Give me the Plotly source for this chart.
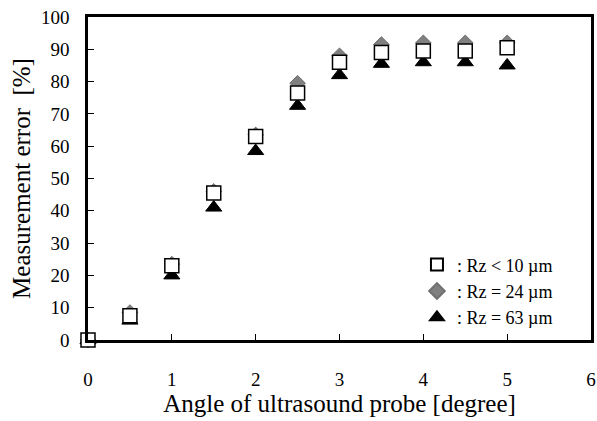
import plotly.graph_objects as go

angles = [0, 0.5, 1, 1.5, 2, 2.5, 3, 3.5, 4, 4.5, 5]
rz10 = [0, 7.5, 23, 45.5, 63, 76.5, 86, 89, 89.5, 89.5, 90.5]
rz24 = [0, 8.5, 23.5, 46, 63.5, 79.5, 88, 91.5, 92, 92, 92]
rz63 = [0, 6, 20, 41, 58.5, 72.5, 82, 85.5, 86, 86, 85]
names = [": Rz < 10 µm", ": Rz = 24 µm", ": Rz = 63 µm"]

FONT = "Liberation Serif, Times New Roman, serif"

fig = go.Figure()
fig.add_trace(go.Scatter(x=angles, y=rz24, mode="markers", name=names[1], legendrank=2,
                         marker=dict(symbol="diamond", size=12, color="#808080",
                                     line=dict(color="#707070", width=1)), cliponaxis=False))
fig.add_trace(go.Scatter(x=angles, y=rz63, mode="markers", name=names[2], legendrank=3,
                         marker=dict(symbol="triangle-up", size=14, color="black",
                                     line=dict(color="black", width=1)), cliponaxis=False))
fig.add_trace(go.Scatter(x=angles, y=rz10, mode="markers", name=names[0], legendrank=1,
                         marker=dict(symbol="square", size=14, color="white",
                                     line=dict(color="black", width=1.5)), cliponaxis=False))

fig.update_layout(
    width=597, height=421,
    margin=dict(l=88, r=6, t=17, b=81),
    paper_bgcolor="white", plot_bgcolor="white",
    font=dict(family=FONT, size=19, color="black"),
    showlegend=True,
    legend=dict(x=0.654, y=0.29, xanchor="left", yanchor="top",
                font=dict(family=FONT, size=18), bgcolor="rgba(0,0,0,0)",
                tracegroupgap=0, itemsizing="constant"),
    xaxis=dict(range=[0, 6], tickvals=[0, 1, 2, 3, 4, 5, 6], ticks="inside", ticklen=6,
               tickcolor="black", showline=True, linecolor="black", linewidth=2.5, mirror=True,
               showgrid=False, zeroline=False, ticklabelstandoff=20,
               title=dict(text="Angle of ultrasound probe [degree]", font=dict(size=25), standoff=2),
               automargin=False),
    yaxis=dict(range=[0, 100], tickvals=list(range(0, 101, 10)), ticks="inside", ticklen=6,
               tickcolor="black", showline=True, linecolor="black", linewidth=2.5, mirror=True,
               showgrid=False, zeroline=False, ticklabelstandoff=12,
               title=dict(text="Measurement error \u00a0[%]", font=dict(size=25), standoff=4),
               automargin=False),
)

fig.write_html("out.html")
